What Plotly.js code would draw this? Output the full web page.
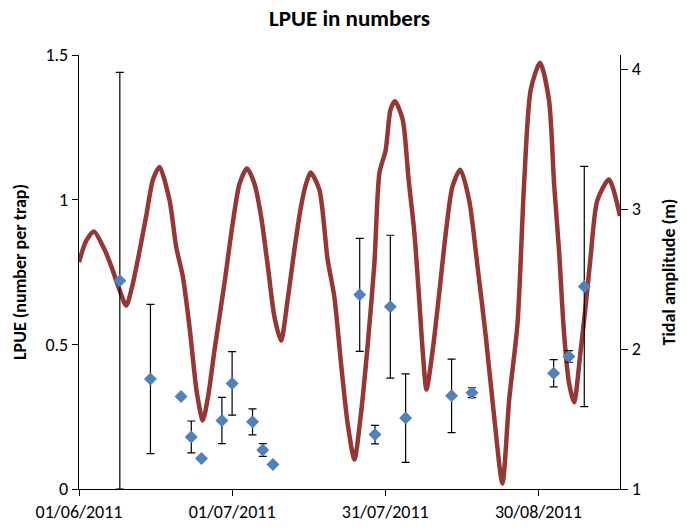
<!DOCTYPE html>
<html>
<head>
<meta charset="utf-8">
<script src="https://cdn.plot.ly/plotly-3.0.1.min.js"></script>
<style>html,body{margin:0;padding:0;background:#fff;}#chart{width:691px;height:531px;}</style>
</head>
<body>
<div id="chart"></div>
<script>
// LPUE sampling dates, values (number per trap) and error (+/-)
var lpueDates = ['2011-06-09','2011-06-15','2011-06-21','2011-06-23','2011-06-25','2011-06-29','2011-07-01','2011-07-05','2011-07-07','2011-07-09','2011-07-26','2011-07-29','2011-08-01','2011-08-04','2011-08-13','2011-08-17','2011-09-02','2011-09-05','2011-09-08'];
var lpueValues = [0.72,0.38,0.32,0.18,0.105,0.237,0.365,0.232,0.135,0.085,0.671,0.188,0.63,0.245,0.322,0.333,0.40,0.458,0.70];
var lpueErrors = [0.72,0.258,0,0.055,0,0.08,0.11,0.045,0.022,0,0.195,0.032,0.247,0.153,0.127,0.017,0.047,0.02,0.415];

// Tidal amplitude (m)
var tideDates = ['2011-06-01 00:00','2011-06-02 09:00','2011-06-03 22:00','2011-06-06 00:00','2011-06-07 08:00','2011-06-08 23:00','2011-06-10 06:00','2011-06-11 09:00','2011-06-12 13:00','2011-06-14 04:00','2011-06-15 12:00','2011-06-16 19:00','2011-06-18 18:00','2011-06-20 01:00','2011-06-21 08:00','2011-06-22 17:00','2011-06-24 02:00','2011-06-25 06:00','2011-06-26 08:00','2011-06-27 13:00','2011-06-29 12:00','2011-07-01 03:00','2011-07-02 11:00','2011-07-03 22:00','2011-07-05 09:00','2011-07-06 16:00','2011-07-08 00:00','2011-07-09 07:00','2011-07-10 14:00','2011-07-11 21:00','2011-07-13 05:00','2011-07-14 10:00','2011-07-15 10:00','2011-07-16 09:00','2011-07-18 02:00','2011-07-19 17:00','2011-07-21 01:00','2011-07-22 08:00','2011-07-23 15:00','2011-07-24 23:00','2011-07-26 06:00','2011-07-27 13:00','2011-07-28 21:00','2011-07-29 21:00','2011-07-31 02:00','2011-08-01 01:00','2011-08-01 22:00','2011-08-03 10:00','2011-08-04 14:00','2011-08-05 17:00','2011-08-06 16:00','2011-08-07 08:00','2011-08-08 02:00','2011-08-09 07:00','2011-08-10 14:00','2011-08-11 21:00','2011-08-13 04:00','2011-08-14 17:00','2011-08-16 11:00','2011-08-18 02:00','2011-08-19 17:00','2011-08-21 08:00','2011-08-22 23:00','2011-08-24 07:00','2011-08-25 22:00','2011-08-27 05:00','2011-08-28 12:00','2011-08-30 08:00','2011-09-01 02:00','2011-09-02 02:00','2011-09-03 01:00','2011-09-04 01:00','2011-09-05 00:00','2011-09-06 00:00','2011-09-07 07:00','2011-09-08 06:00','2011-09-09 06:00','2011-09-10 13:00','2011-09-12 20:00','2011-09-15 00:00'];
var tideValues = [2.62,2.77,2.84,2.71,2.59,2.42,2.31,2.44,2.64,2.95,3.21,3.30,3.06,2.73,2.52,2.14,1.69,1.49,1.67,1.99,2.47,2.90,3.18,3.29,3.18,2.95,2.59,2.23,2.06,2.35,2.71,3.00,3.17,3.26,3.14,2.64,2.37,1.90,1.47,1.21,1.54,2.02,2.61,3.26,3.42,3.71,3.77,3.64,3.21,2.83,2.35,1.99,1.71,1.99,2.40,2.83,3.16,3.28,3.06,2.59,2.09,1.52,1.04,1.64,2.18,3.18,3.85,4.045,3.78,3.18,2.71,2.11,1.76,1.62,1.99,2.30,2.66,3.06,3.21,2.95];

// Axis ticks
var xTickVals = ['2011-06-01','2011-07-01','2011-07-31','2011-08-30'];
var xTickText = ['01/06/2011','01/07/2011','31/07/2011','30/08/2011'];
var lpueTickVals = [0,0.5,1,1.5];
var lpueTickText = ['0','0.5','1','1.5'];
var tideTickVals = [1,2,3,4];
var tideTickText = ['1','2','3','4'];

var FONT = 'Carlito, Calibri, Lato, sans-serif';

var tideTrace = {
  x: tideDates, y: tideValues, type: 'scatter', mode: 'lines',
  line: {color: '#953735', width: 4.5, shape: 'spline', smoothing: 0.7},
  xaxis: 'x', yaxis: 'y', hoverinfo: 'skip', showlegend: false
};
var lpueTrace = {
  x: lpueDates, y: lpueValues, type: 'scatter', mode: 'markers',
  marker: {symbol: 'diamond', size: 10, color: '#4F81BD'},
  error_y: {type: 'data', array: lpueErrors, visible: true, color: '#000000', thickness: 1.2, width: 4},
  xaxis: 'x', yaxis: 'y2', showlegend: false
};

var layout = {
  width: 691, height: 531,
  margin: {l: 79, r: 71, t: 55, b: 42, pad: 0},
  paper_bgcolor: '#ffffff', plot_bgcolor: '#ffffff',
  font: {family: FONT, color: '#000000', size: 18},
  title: {text: '<b>LPUE in numbers</b>', font: {family: FONT, size: 23, color: '#000'}, x: 0.5, xref: 'paper', xanchor: 'center', y: 0.967, yref: 'container', yanchor: 'middle'},
  xaxis: {
    type: 'date', range: ['2011-06-01', '2011-09-15'],
    tickmode: 'array', tickvals: xTickVals, ticktext: xTickText,
    ticks: 'outside', ticklen: 6, tickcolor: '#000', tickwidth: 1,
    showline: true, linecolor: '#000', linewidth: 1.2,
    showgrid: false, zeroline: false,
    tickfont: {family: FONT, size: 18, color: '#000'}
  },
  yaxis: {
    side: 'right', range: [1, 4.1],
    tickmode: 'array', tickvals: tideTickVals, ticktext: tideTickText,
    ticks: 'outside', ticklen: 7, tickcolor: '#000', tickwidth: 1,
    showline: true, linecolor: '#000', linewidth: 1.2,
    showgrid: false, zeroline: false,
    tickfont: {family: FONT, size: 18, color: '#000'},
    title: {text: '<b>Tidal amplitude (m)</b>', font: {family: FONT, size: 18, color: '#000'}, standoff: 22}
  },
  yaxis2: {
    overlaying: 'y', side: 'left', range: [0, 1.5],
    tickmode: 'array', tickvals: lpueTickVals, ticktext: lpueTickText,
    ticks: 'outside', ticklen: 6, tickcolor: '#000', tickwidth: 1,
    showline: true, linecolor: '#000', linewidth: 1.2,
    showgrid: false, zeroline: false,
    tickfont: {family: FONT, size: 18, color: '#000'},
    title: {text: '<b>LPUE (number per trap)</b>', font: {family: FONT, size: 18, color: '#000'}, standoff: 14}
  }
};

Plotly.newPlot('chart', [tideTrace, lpueTrace], layout, {staticPlot: true, displayModeBar: false});
</script>
</body>
</html>
